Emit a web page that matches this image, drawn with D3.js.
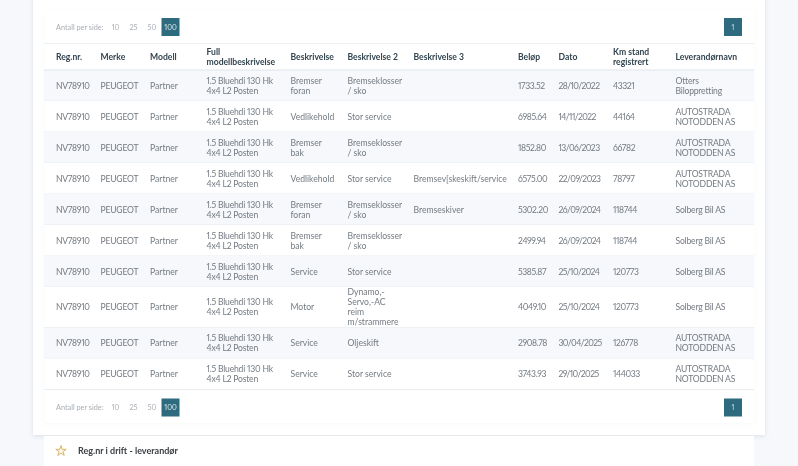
<!DOCTYPE html>
<html>
<head>
<meta charset="utf-8">
<script src="https://cdn.jsdelivr.net/npm/d3@7"></script>
<style>
  html, body { margin: 0; padding: 0; background: #f6f8fb; overflow: hidden; }
  svg { display: block; font-family: Lato, sans-serif; font-variant-numeric: proportional-nums; filter: blur(0.35px); }
</style>
</head>
<body>
<svg id="chart" width="798" height="466"></svg>
<script>
const headers = [['Reg.nr.'], ['Merke'], ['Modell'], ['Full', 'modellbeskrivelse'], ['Beskrivelse'], ['Beskrivelse 2'], ['Beskrivelse 3'], ['Beløp'], ['Dato'], ['Km stand', 'registrert'], ['Leverandørnavn']];
const columnX = [56, 100.5, 150, 206.5, 290.5, 347.5, 413.5, 518, 558.5, 613, 675.5];
// the original font is narrower on digits than Lato
const columnSpacing = [-0.3, -0.2, 0, -0.2, 0, 0, 0, -0.4, -0.6, -0.4, -0.2];

const regNr = Array(10).fill('NV78910');
const merke = Array(10).fill('PEUGEOT');
const modell = Array(10).fill('Partner');
const fullModell = Array(10).fill(['1.5 Bluehdi 130 Hk', '4x4 L2 Posten']);
const beskrivelse = [['Bremser', 'foran'], ['Vedlikehold'], ['Bremser', 'bak'], ['Vedlikehold'], ['Bremser', 'foran'], ['Bremser', 'bak'], ['Service'], ['Motor'], ['Service'], ['Service']];
const beskrivelse2 = [['Bremseklosser', '/ sko'], ['Stor service'], ['Bremseklosser', '/ sko'], ['Stor service'], ['Bremseklosser', '/ sko'], ['Bremseklosser', '/ sko'], ['Stor service'], ['Dynamo,-', 'Servo,-AC', 'reim', 'm/strammere'], ['Oljeskift'], ['Stor service']];
const beskrivelse3 = ['', '', '', 'Bremsev[skeskift/service', 'Bremseskiver', '', '', '', '', ''];
const belop = ['1733.52', '6985.64', '1852.80', '6575.00', '5302.20', '2499.94', '5385.87', '4049.10', '2908.78', '3743.93'];
const dato = ['28/10/2022', '14/11/2022', '13/06/2023', '22/09/2023', '26/09/2024', '26/09/2024', '25/10/2024', '25/10/2024', '30/04/2025', '29/10/2025'];
const km = ['43321', '44164', '66782', '78797', '118744', '118744', '120773', '120773', '126778', '144033'];
const leverandor = [['Otters', 'Biloppretting'], ['AUTOSTRADA', 'NOTODDEN AS'], ['AUTOSTRADA', 'NOTODDEN AS'], ['AUTOSTRADA', 'NOTODDEN AS'], ['Solberg Bil AS'], ['Solberg Bil AS'], ['Solberg Bil AS'], ['Solberg Bil AS'], ['AUTOSTRADA', 'NOTODDEN AS'], ['AUTOSTRADA', 'NOTODDEN AS']];
const pageSizes = ['10', '25', '50', '100'];

const svg = d3.select('#chart');
const teal = '#2f6b7e';
const x = d3.scaleOrdinal().domain(d3.range(11)).range(columnX);

// row heights follow the number of text lines
const columns = [regNr, merke, modell, fullModell, beskrivelse, beskrivelse2, beskrivelse3, belop, dato, km, leverandor];
const rows = d3.range(10).map(i => columns.map(c => [].concat(c[i])));
const rowH = rows.map(r => d3.max(r, c => c.length) >= 4 ? 40.6 : 31);
const rowTop = d3.cumsum([70, ...rowH]);

// cards
const defs = svg.append('defs');
const shadow = defs.append('filter').attr('id', 'sh').attr('x', '-5%').attr('y', '-5%').attr('width', '110%').attr('height', '110%');
shadow.append('feDropShadow').attr('dx', 0).attr('dy', 1).attr('stdDeviation', 2).attr('flood-color', '#9aa7b5').attr('flood-opacity', 0.3);

svg.append('rect').attr('x', 33).attr('y', -10).attr('width', 732).attr('height', 445).attr('fill', '#fff').attr('filter', 'url(#sh)');
svg.append('rect').attr('x', 44).attr('y', 10).attr('width', 710).attr('height', 413).attr('fill', '#fff').attr('filter', 'url(#sh)').attr('opacity', 0.25);
svg.append('rect').attr('x', 44).attr('y', 436).attr('width', 710).attr('height', 40).attr('fill', '#fff');

// table rows
const tr = svg.append('g').selectAll('g').data(rows).join('g');
tr.append('rect')
  .attr('x', 44).attr('width', 710)
  .attr('y', (d, i) => rowTop[i]).attr('height', (d, i) => rowH[i])
  .attr('fill', (d, i) => i % 2 ? '#fff' : '#f6f8fb');
tr.append('line')
  .attr('x1', 44).attr('x2', 754)
  .attr('y1', (d, i) => rowTop[i + 1]).attr('y2', (d, i) => rowTop[i + 1])
  .attr('stroke', '#e9edf1');

const lineH = 10;
tr.each(function (row, i) {
  const mid = rowTop[i] + rowH[i] / 2;
  d3.select(this).selectAll('text')
    .data(row.flatMap((lines, c) => lines.map((t, k) => ({ t, c, k, n: lines.length }))))
    .join('text')
    .attr('x', d => x(d.c))
    .attr('y', d => mid + (d.k - (d.n - 1) / 2) * lineH + 3)
    .attr('font-size', 8.6)
    .attr('letter-spacing', d => columnSpacing[d.c])
    .attr('fill', '#747b82')
    .text(d => d.t);
});

// header
svg.append('line').attr('x1', 44).attr('x2', 754).attr('y1', 43.5).attr('y2', 43.5).attr('stroke', '#eef1f4');
svg.append('line').attr('x1', 44).attr('x2', 754).attr('y1', 70).attr('y2', 70).attr('stroke', '#dfe4e9');
headers.forEach((lines, c) => {
  svg.append('g').selectAll('text').data(lines).join('text')
    .attr('x', x(c))
    .attr('y', (d, k) => 57 + (k - (lines.length - 1) / 2) * 10 + 3)
    .attr('font-size', 8.6)
    .attr('font-weight', 700)
    .attr('fill', '#33454f')
    .text(d => d);
});

// page size selector and pager, top and bottom
[18, 398.5].forEach(top => {
  const mid = top + 9;
  const g = svg.append('g');
  g.append('text').attr('x', 56).attr('y', mid + 2.5).attr('font-size', 7.3).attr('fill', '#a8aeb4').text('Antall per side:');
  const sx = d3.scaleOrdinal().domain(pageSizes).range([115.5, 133.5, 152, 170.5]);
  g.append('rect').attr('x', 161.5).attr('y', top).attr('width', 18).attr('height', 18).attr('fill', teal);
  g.selectAll('.size').data(pageSizes).join('text')
    .attr('x', d => sx(d)).attr('y', mid + 2.5).attr('text-anchor', 'middle').attr('font-size', 7.3)
    .attr('fill', d => d === '100' ? '#dfeaee' : '#a8aeb4')
    .text(d => d);
  g.append('rect').attr('x', 724).attr('y', top).attr('width', 18).attr('height', 18).attr('fill', teal);
  g.append('text').attr('x', 733).attr('y', mid + 2.5).attr('text-anchor', 'middle').attr('font-size', 7).attr('fill', '#cfe0e6').text('1');
});

// next card heading
const star = d3.symbol().type(d3.symbolStar).size(34);
svg.append('path').attr('d', star()).attr('transform', 'translate(61,451)').attr('fill', '#fdf8ea').attr('stroke', '#d9b56a').attr('stroke-width', 1);
svg.append('text').attr('x', 78).attr('y', 454).attr('font-size', 9).attr('font-weight', 700).attr('fill', '#3c4146').text('Reg.nr i drift - leverandør');
</script>
</body>
</html>
